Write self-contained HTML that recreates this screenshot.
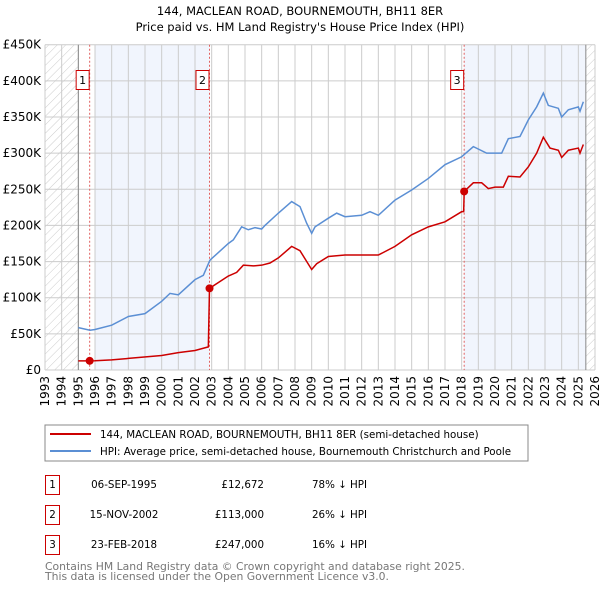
<!DOCTYPE html>
<html><head><meta charset="utf-8"><style>
body{margin:0;background:#fff;font-family:"DejaVu Sans","Liberation Sans",sans-serif;}
svg text{font-family:"DejaVu Sans","Liberation Sans",sans-serif;}
</style></head><body>
<svg id="chart" width="600" height="590" xmlns="http://www.w3.org/2000/svg">
<defs><pattern id="hatch" width="6" height="6" patternUnits="userSpaceOnUse" patternTransform="rotate(45)"><line x1="0" y1="0" x2="0" y2="6" stroke="#ccc" stroke-width="1"/></pattern></defs>
<text x="300" y="15" text-anchor="middle" font-size="11.5">144, MACLEAN ROAD, BOURNEMOUTH, BH11 8ER</text>
<text x="300" y="31" text-anchor="middle" font-size="11.5">Price paid vs. HM Land Registry's House Price Index (HPI)</text>
<g id="plot"></g>
<rect x="45" y="425" width="483" height="36" fill="#fff" stroke="#888"/>
<line x1="50" y1="434" x2="91" y2="434" stroke="#cc0000" stroke-width="2"/>
<text x="100" y="438" font-size="10.3">144, MACLEAN ROAD, BOURNEMOUTH, BH11 8ER (semi-detached house)</text>
<line x1="50" y1="451" x2="91" y2="451" stroke="#5b8fd4" stroke-width="2"/>
<text x="100" y="455" font-size="10.3">HPI: Average price, semi-detached house, Bournemouth Christchurch and Poole</text>
<g font-size="10.3">
<g><rect x="45.5" y="475.5" width="14" height="19" fill="#fff" stroke="#cc0000"/><text x="52.5" y="488" text-anchor="middle">1</text><text x="124" y="488" text-anchor="middle">06-SEP-1995</text><text x="264" y="488" text-anchor="end">£12,672</text><text x="312" y="488">78% ↓ HPI</text></g>
<g><rect x="45.5" y="505.5" width="14" height="19" fill="#fff" stroke="#cc0000"/><text x="52.5" y="518" text-anchor="middle">2</text><text x="124" y="518" text-anchor="middle">15-NOV-2002</text><text x="264" y="518" text-anchor="end">£113,000</text><text x="312" y="518">26% ↓ HPI</text></g>
<g><rect x="45.5" y="535.5" width="14" height="19" fill="#fff" stroke="#cc0000"/><text x="52.5" y="548" text-anchor="middle">3</text><text x="124" y="548" text-anchor="middle">23-FEB-2018</text><text x="264" y="548" text-anchor="end">£247,000</text><text x="312" y="548">16% ↓ HPI</text></g>
</g>
<text x="45" y="570" font-size="10.8" fill="#777">Contains HM Land Registry data © Crown copyright and database right 2025.</text>
<text x="45" y="580" font-size="10.8" fill="#777">This data is licensed under the Open Government Licence v3.0.</text>
</svg>
<script>
const yTicks=[0,50000,100000,150000,200000,250000,300000,350000,400000,450000];
const yTickLabels=["£0","£50K","£100K","£150K","£200K","£250K","£300K","£350K","£400K","£450K"];
const xYears=[1993,1994,1995,1996,1997,1998,1999,2000,2001,2002,2003,2004,2005,2006,2007,2008,2009,2010,2011,2012,2013,2014,2015,2016,2017,2018,2019,2020,2021,2022,2023,2024,2025,2026];
const hpiX=[1995.0,1995.7,1996.0,1997.0,1998.0,1999.0,2000.0,2000.5,2001.0,2002.0,2002.5,2002.9,2004.0,2004.3,2004.8,2005.2,2005.6,2006.0,2006.2,2007.0,2007.8,2008.3,2008.7,2009.0,2009.2,2010.0,2010.5,2011.0,2012.0,2012.5,2013.0,2014.0,2015.0,2016.0,2017.0,2018.0,2018.7,2019.5,2020.0,2020.4,2020.8,2021.5,2022.0,2022.5,2022.9,2023.2,2023.8,2024.0,2024.4,2025.0,2025.1,2025.3];
const hpiY=[58600,55000,56000,62000,74000,78000,95000,106000,104000,125000,131000,152000,175000,180000,198000,194000,197000,195000,200000,217000,233000,226000,203000,189000,198000,210000,217000,212000,214000,219000,214000,235000,249000,265000,284000,295000,309000,300000,300000,300000,320000,323000,346000,364000,383000,366000,362000,350000,360000,364000,358000,371000];
const propX=[1995.0,1995.68,1996.0,1997.0,1998.0,2000.0,2001.0,2002.0,2002.8,2002.87,2004.0,2004.5,2004.9,2005.5,2006.0,2006.5,2007.0,2007.8,2008.3,2009.0,2009.3,2010.0,2011.0,2012.0,2013.0,2014.0,2015.0,2016.0,2017.0,2018.0,2018.12,2018.15,2018.7,2019.2,2019.6,2020.0,2020.5,2020.8,2021.5,2022.0,2022.5,2022.9,2023.3,2023.8,2024.0,2024.4,2025.0,2025.1,2025.3];
const propY=[12672,12672,12800,14000,16000,20000,24000,27000,32000,113000,130000,135000,145000,144000,145000,148000,155000,171000,165000,139000,147000,157000,159000,159000,159000,171000,187000,198000,205000,219000,219000,247000,259000,259000,251000,253000,253000,268000,267000,281000,300000,322000,307000,304000,294000,304000,307000,300000,312000];
const saleX=[1995.68,2002.87,2018.15];
const saleY=[12672,113000,247000];
const saleLabels=["1","2","3"];
const NS="http://www.w3.org/2000/svg";
const X0=45,X1=595,Y0=370,Y1=44.7;
const sx=v=>X0+(v-1993)/(2026-1993)*(X1-X0);
const sy=v=>Y0-v/450000*(Y0-Y1);
const g=document.getElementById('plot');
function mk(t,a,p){const e=document.createElementNS(NS,t);for(const k in a)e.setAttribute(k,a[k]);(p||g).appendChild(e);return e;}
let e;
e=mk('rect',{x:sx(1996),y:Y1,width:sx(saleX[1])-sx(1996),height:Y0-Y1,fill:'#eef3fc',opacity:0.8});


e=mk('rect',{x:sx(saleX[2]),y:Y1,width:sx(2025.45)-sx(saleX[2]),height:Y0-Y1,fill:'#eef3fc',opacity:0.8});


e=mk('rect',{x:X0,y:Y1,width:sx(1995)-X0,height:Y0-Y1,fill:'url(#hatch)'});


e=mk('rect',{x:sx(2025.45),y:Y1,width:X1-sx(2025.45),height:Y0-Y1,fill:'url(#hatch)'});


yTicks.forEach((v,i)=>{
 e=mk('line',{x1:X0,x2:X1,y1:sy(v),y2:sy(v),stroke:'#ccc'});
 
 
 e=mk('text',{x:X0-4,y:sy(v)+4,'text-anchor':'end','font-size':12});
 e.textContent=yTickLabels[i];
 
 
});
xYears.forEach(v=>{
 e=mk('line',{x1:sx(v),x2:sx(v),y1:Y1,y2:Y0,stroke:'#ccc'});
 
 
 e=mk('text',{x:0,y:0,'font-size':12,'text-anchor':'end',transform:`translate(${sx(v)+4},${Y0+6}) rotate(-90)`});
 e.textContent=v;
 
 
});
e=mk('line',{x1:sx(1995),x2:sx(1995),y1:Y1,y2:Y0,stroke:'#888'});


e=mk('line',{x1:sx(2025.45),x2:sx(2025.45),y1:Y1,y2:Y0,stroke:'#888'});


saleX.forEach((v,i)=>{
 e=mk('line',{x1:sx(v),x2:sx(v),y1:Y1,y2:Y0,stroke:'#e06060','stroke-dasharray':'2,2'});
 
 
});
e=mk('polyline',{points:hpiX.map((x,i)=>sx(x)+','+sy(hpiY[i])).join(' '),fill:'none',stroke:'#5b8fd4','stroke-width':1.5});


e=mk('polyline',{points:propX.map((x,i)=>sx(x)+','+sy(propY[i])).join(' '),fill:'none',stroke:'#cc0000','stroke-width':1.5});


saleX.forEach((v,i)=>{
 e=mk('circle',{cx:sx(v),cy:sy(saleY[i]),r:4,fill:'#cc0000'});
 
 
 e=mk('rect',{x:sx(v)-13.5,y:70.5,width:13,height:19,fill:'#fff',stroke:'#cc0000'});
 
 
 e=mk('text',{x:sx(v)-7,y:84,'text-anchor':'middle','font-size':11});
 e.textContent=saleLabels[i];
 
 
});
</script>
</body></html>
